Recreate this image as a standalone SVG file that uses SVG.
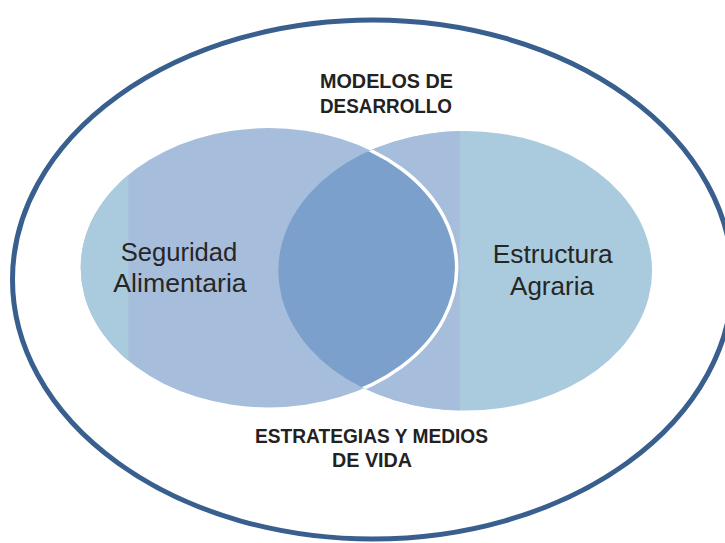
<svg xmlns="http://www.w3.org/2000/svg" width="725" height="543" viewBox="0 0 725 543">
<style>
.hdr{font-family:"Liberation Sans",Arial,sans-serif;font-weight:bold;fill:#222222;text-anchor:middle}
.lbl{font-family:"Liberation Sans",Arial,sans-serif;font-size:26px;fill:#262626;text-anchor:middle}
</style>
<defs>
<clipPath id="clipL"><ellipse cx="268.7" cy="267.8" rx="188" ry="139.7"/></clipPath>
<clipPath id="clipR"><ellipse cx="465.2" cy="270.8" rx="186.9" ry="139.8"/></clipPath>
<clipPath id="leftOf460"><rect x="0" y="0" width="460" height="543"/></clipPath>
<clipPath id="leftOf128"><rect x="0" y="0" width="128.3" height="543"/></clipPath>
</defs>
<rect width="725" height="543" fill="#ffffff"/>
<g id="outer">
<ellipse cx="372.5" cy="279.5" rx="360" ry="259.5" fill="none" stroke="#385F8E" stroke-width="5"/>
</g>
<g id="estructura-agraria">
<ellipse cx="465.2" cy="270.8" rx="186.9" ry="139.8" fill="#AACBDD"/>
<g clip-path="url(#leftOf460)"><ellipse cx="465.2" cy="270.8" rx="186.9" ry="139.8" fill="#A6BEDC"/></g>
</g>
<g id="seguridad-alimentaria">
<ellipse cx="268.7" cy="267.8" rx="188" ry="139.7" fill="#A6BEDC"/>
<g clip-path="url(#leftOf128)"><ellipse cx="268.7" cy="267.8" rx="188" ry="139.7" fill="#AACBDD"/></g>
</g>
<g id="interseccion">
<g clip-path="url(#clipL)"><ellipse cx="465.2" cy="270.8" rx="186.9" ry="139.8" fill="#7BA0CC"/></g>
<g clip-path="url(#clipR)"><ellipse cx="268.7" cy="267.8" rx="188" ry="139.7" fill="none" stroke="#ffffff" stroke-width="3.5"/></g>
</g>
<g id="labels">
<text class="lbl" x="179" y="261" textLength="116.6" lengthAdjust="spacingAndGlyphs">Seguridad</text>
<text class="lbl" x="180" y="291.7" textLength="133.4" lengthAdjust="spacingAndGlyphs">Alimentaria</text>
<text class="lbl" x="552.7" y="263.3" textLength="120" lengthAdjust="spacingAndGlyphs">Estructura</text>
<text class="lbl" x="552" y="295" textLength="84" lengthAdjust="spacingAndGlyphs">Agraria</text>
</g>
<g id="modelos-de-desarrollo">
<text class="hdr" x="386.5" y="88" font-size="19.5" textLength="133" lengthAdjust="spacingAndGlyphs">MODELOS DE</text>
<text class="hdr" x="386" y="113" font-size="19.5" textLength="132" lengthAdjust="spacingAndGlyphs">DESARROLLO</text>
</g>
<g id="estrategias-y-medios-de-vida">
<text class="hdr" x="371.5" y="443" font-size="20.5" textLength="233" lengthAdjust="spacingAndGlyphs">ESTRATEGIAS Y MEDIOS</text>
<text class="hdr" x="372" y="467" font-size="20.5" textLength="80" lengthAdjust="spacingAndGlyphs">DE VIDA</text>
</g>
</svg>
